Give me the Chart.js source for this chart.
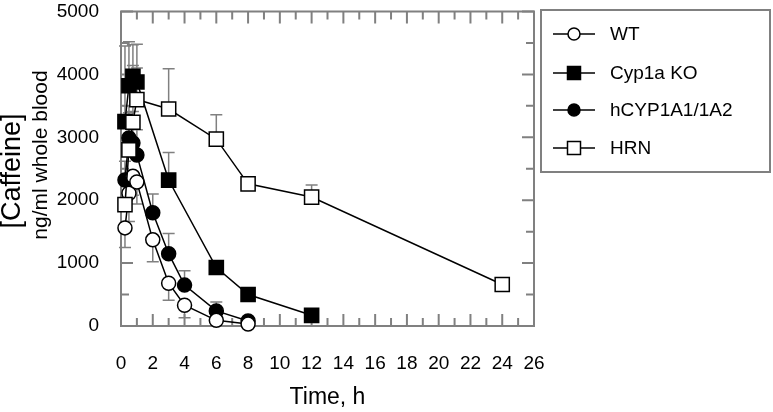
<!DOCTYPE html>
<html>
<head>
<meta charset="utf-8">
<script src="https://cdn.jsdelivr.net/npm/chart.js@4/dist/chart.umd.min.js"></script>
<style>
  body { margin: 0; background: #fff; }
</style>
</head>
<body>
<canvas id="myChart" width="773" height="412"></canvas>
<script>
    // setup - values
    const wtTime = [0.25, 0.5, 0.75, 1, 2, 3, 4, 6, 8];
    const wtConc = [1560, 2110, 2380, 2290, 1370, 680, 330, 90, 30];
    const wtSD = [310, 450, 300, 350, 350, 270, 200, 80, 30];

    const koTime = [0.25, 0.5, 0.75, 1, 3, 6, 8, 12];
    const koConc = [3250, 3820, 3970, 3880, 2320, 930, 500, 170];
    const koSD = [1200, 700, 500, 600, 440, 100, 60, 50];

    const hcypTime = [0.25, 0.5, 0.75, 1, 2, 3, 4, 6, 8];
    const hcypConc = [2320, 2990, 2910, 2720, 1800, 1150, 650, 240, 80];
    const hcypSD = [300, 400, 500, 400, 300, 320, 230, 140, 40];

    const hrnTime = [0.25, 0.5, 0.75, 1, 3, 6, 8, 12, 24];
    const hrnConc = [1930, 2800, 3240, 3600, 3450, 2970, 2260, 2050, 660];
    const hrnSD = [400, 700, 900, 500, 640, 390, 60, 190, 40];

    const xTicks = [0, 2, 4, 6, 8, 10, 12, 14, 16, 18, 20, 22, 24, 26];
    const yTicks = [0, 1000, 2000, 3000, 4000, 5000];
    const yTitle = ["[Caffeine]", "ng/ml whole blood"];

    const FONT = "'Liberation Sans', Arial, sans-serif";
    const GRAY = "#808080";

    const toPts = (t, v) => t.map((x, i) => ({ x: x, y: v[i] }));

    function series(label, t, v, sd, dir, style, fill, radius, order) {
      return {
        label: label,
        data: toPts(t, v),
        sd: sd,
        errDir: dir,
        showLine: true,
        borderColor: "black",
        borderWidth: 1.5,
        pointStyle: style,
        pointRadius: radius,
        pointBackgroundColor: fill,
        pointBorderColor: "black",
        pointBorderWidth: 1.5,
        clip: false,
        order: order,
      };
    }

    const data = {
      datasets: [
        series("WT", wtTime, wtConc, wtSD, -1, "circle", "white", 7, 1),
        series("Cyp1a KO", koTime, koConc, koSD, 1, "rect", "black", 10, 3),
        series("hCYP1A1/1A2", hcypTime, hcypConc, hcypSD, 1, "circle", "black", 7, 2),
        series("HRN", hrnTime, hrnConc, hrnSD, 1, "rect", "white", 10, 0),
      ],
    };

    // frame with inward ticks on all four sides + error bars
    const frameAndErrors = {
      id: "frameAndErrors",
      beforeDatasetsDraw(chart) {
        const { ctx, chartArea: { left, right, top, bottom }, scales: { x, y } } = chart;
        ctx.save();
        ctx.strokeStyle = GRAY;
        ctx.lineWidth = 2;
        ctx.strokeRect(left, top, right - left, bottom - top);
        ctx.beginPath();
        for (let t = 0; t <= 26; t++) {
          const px = x.getPixelForValue(t);
          const len = t % 2 === 0 ? 12 : 8;
          ctx.moveTo(px, bottom); ctx.lineTo(px, bottom - len);
          ctx.moveTo(px, top); ctx.lineTo(px, top + len);
        }
        for (let v = 0; v <= 5000; v += 500) {
          const py = y.getPixelForValue(v);
          const len = v % 1000 === 0 ? 12 : 8;
          ctx.moveTo(left, py); ctx.lineTo(left + len, py);
          ctx.moveTo(right, py); ctx.lineTo(right - len, py);
        }
        ctx.stroke();

        // error bars (one-sided)
        ctx.lineWidth = 1.5;
        ctx.beginPath();
        chart.data.datasets.forEach((ds) => {
          ds.data.forEach((p, i) => {
            const e = ds.sd[i];
            if (!e) return;
            const px = x.getPixelForValue(p.x);
            const py = y.getPixelForValue(p.y);
            const pe = y.getPixelForValue(p.y + ds.errDir * e);
            ctx.moveTo(px, py); ctx.lineTo(px, pe);
            ctx.moveTo(px - 6, pe); ctx.lineTo(px + 6, pe);
          });
        });
        ctx.stroke();
        ctx.restore();
      },
    };

    // y title: two rotated lines, the first one bigger
    const yTitlePlugin = {
      id: "yTitlePlugin",
      afterDraw(chart) {
        const { ctx } = chart;
        ctx.save();
        ctx.fillStyle = "black";
        ctx.textAlign = "center";
        ctx.textBaseline = "middle";
        ctx.translate(13, 171);
        ctx.rotate(-Math.PI / 2);
        ctx.font = "27px " + FONT;
        ctx.fillText(yTitle[0], 0, 0);
        ctx.restore();
        ctx.save();
        ctx.fillStyle = "black";
        ctx.textAlign = "center";
        ctx.textBaseline = "middle";
        ctx.translate(41, 155);
        ctx.rotate(-Math.PI / 2);
        ctx.font = "21px " + FONT;
        ctx.fillText(yTitle[1], 0, 0);
        ctx.restore();
      },
    };

    // boxed legend at the right, line through marker
    const boxLegend = {
      id: "boxLegend",
      afterDraw(chart) {
        const { ctx } = chart;
        ctx.save();
        ctx.strokeStyle = GRAY;
        ctx.lineWidth = 2;
        ctx.strokeRect(541, 10, 229, 162);
        const rows = [34, 73, 110, 148];
        chart.data.datasets.forEach((ds, i) => {
          const cy = rows[i];
          ctx.strokeStyle = "black";
          ctx.lineWidth = 1.5;
          ctx.beginPath();
          ctx.moveTo(553, cy); ctx.lineTo(595, cy);
          ctx.stroke();
          ctx.fillStyle = ds.pointBackgroundColor;
          ctx.beginPath();
          if (ds.pointStyle === "circle") {
            ctx.arc(574, cy, 6, 0, Math.PI * 2);
          } else {
            ctx.rect(567.5, cy - 6.5, 13, 13);
          }
          ctx.fill();
          ctx.stroke();
          ctx.fillStyle = "black";
          ctx.font = "19px " + FONT;
          ctx.textAlign = "left";
          ctx.textBaseline = "middle";
          ctx.fillText(ds.label, 610, cy + 1);
        });
        ctx.restore();
      },
    };

    // config
    const config = {
      type: "scatter",
      data,
      options: {
        responsive: false,
        animation: false,
        events: [],
        layout: { padding: { left: 0, top: 9, right: 239, bottom: 0 } },
        plugins: {
          legend: { display: false },
          tooltip: { enabled: false },
        },
        scales: {
          x: {
            type: "linear",
            min: 0,
            max: 26,
            afterBuildTicks: (s) => { s.ticks = xTicks.map((v) => ({ value: v })); },
            afterFit: (s) => { s.height = 86; s.paddingLeft = 0; s.paddingRight = 0; },
            grid: { display: false, drawTicks: false },
            border: { display: false },
            ticks: {
              color: "black", padding: 26, maxRotation: 0,
              font: { family: FONT, size: 19, lineHeight: 1.2 },
              callback: (v) => String(v),
            },
            title: {
              display: true,
              text: "Time, h",
              color: "black",
              font: { family: FONT, size: 23, lineHeight: 1 },
              padding: { top: 0, bottom: 3 },
            },
          },
          y: {
            type: "linear",
            min: 0,
            max: 5000,
            afterBuildTicks: (s) => { s.ticks = yTicks.map((v) => ({ value: v })); },
            afterFit: (s) => { s.width = 121; s.paddingTop = 0; s.paddingBottom = 0; },
            grid: { display: false, drawTicks: false },
            border: { display: false },
            ticks: {
              color: "black", padding: 22,
              font: { family: FONT, size: 19 },
              callback: (v) => String(v),
            },
          },
        },
      },
      plugins: [frameAndErrors, yTitlePlugin, boxLegend],
    };

    // render init block
    const myChart = new Chart(document.getElementById("myChart"), config);
</script>
</body>
</html>
